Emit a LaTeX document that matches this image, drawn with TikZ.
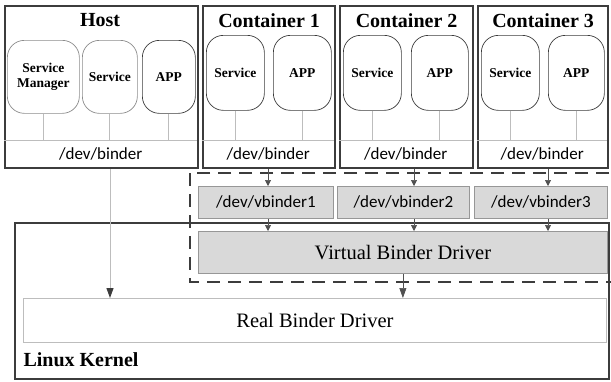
\documentclass[tikz,border=0pt]{standalone}
\usepackage{fontspec}
\setmainfont{Liberation Serif}
\newfontfamily\calibfont{Carlito}
\usetikzlibrary{arrows.meta}
\definecolor{darkline}{HTML}{3C3C3C}
\definecolor{midline}{HTML}{8C8C8C}
\definecolor{lightline}{HTML}{BDBDBD}
\definecolor{boxfill}{HTML}{D9D9D9}
\tikzset{
  outerbox/.style={draw=darkline, line width=2.2pt, anchor=north west, inner sep=0pt},
  roundbox/.style={draw=darkline, line width=0.7pt, rounded corners=17pt, anchor=north west, inner sep=0pt},
  lightround/.style={roundbox, draw=midline},
  strip/.style={anchor=north west, inner sep=0pt},
  vbox/.style={draw=lightline!80!black, fill=boxfill, line width=0.8pt, anchor=north west, inner sep=0pt},
  title/.style={font=\bfseries\fontsize{20}{22}\selectfont},
  svc/.style={font=\bfseries\fontsize{13.5}{15.5}\selectfont, align=center},
  devtext/.style={font=\calibfont\fontsize{17}{18}\selectfont},
  drvtext/.style={font=\fontsize{20.5}{22}\selectfont},
  conn/.style={draw=lightline, line width=1.2pt},
  sepline/.style={draw=lightline, line width=0.8pt},
  arr/.style={draw=darkline!90, line width=0.7pt, -{Triangle[width=6pt,length=6pt]}},
  bigarr/.style={draw=darkline!90, line width=0.7pt, -{Triangle[width=7pt,length=10pt]}},
  hostarr/.style={draw=lightline, line width=1pt, -{Triangle[width=7pt,length=10pt,color=darkline,fill=darkline]}},
}
\begin{document}
\begin{tikzpicture}[x=1pt,y=-1pt]
\useasboundingbox (0,0) rectangle (611,381);
\fill[white] (0,0) rectangle (611,381);

% Linux kernel
\node[outerbox, minimum width=594pt, minimum height=156pt] (kernel) at (14,222) {};
\node[anchor=west, font=\bfseries\fontsize{20}{22}\selectfont] (kt) at (20,360) {Linux Kernel};
\node[draw=lightline, line width=0.8pt, anchor=north west, inner sep=0pt, fill=white,
      minimum width=583pt, minimum height=44pt] (real) at (23,298) {};
\node[drvtext] (realt) at (real.center) {Real Binder Driver};

% dashed region
\draw[darkline, line width=2.4pt, dash pattern=on 13pt off 8pt] (190,173) rectangle (616,282);

% virtual binder driver
\node[vbox, minimum width=409pt, minimum height=42pt] (vbd) at (198,231) {};
\node[drvtext] (vbdt) at (vbd.center) {Virtual Binder Driver};
\node[vbox, minimum width=135pt, minimum height=32pt] (vb1) at (198,186) {};
\node[vbox, minimum width=132pt, minimum height=32pt] (vb2) at (337,186) {};
\node[vbox, minimum width=133pt, minimum height=32pt] (vb3) at (474,186) {};
\node[devtext] at (vb1.center) {/dev/vbinder1};
\node[devtext] at (vb2.center) {/dev/vbinder2};
\node[devtext] at (vb3.center) {/dev/vbinder3};

% Host
\node[outerbox, minimum width=193pt, minimum height=162pt] (host) at (4,5) {};
\node[title] at (100,20) {Host};
\node[strip, minimum width=193pt, minimum height=27pt] (hb) at (4,140) {};
\draw[sepline] (hb.north west) -- (hb.north east);
\node[devtext] at (hb.center) {/dev/binder};
\node[lightround, minimum width=72pt, minimum height=73pt] (hsm) at (7,40) {};
\node[svc] at (hsm.center) {Service\\Manager};
\node[lightround, minimum width=55pt, minimum height=73pt] (hsv) at (82,40) {};
\node[svc] at (hsv.center) {Service};
\node[roundbox, minimum width=53pt, minimum height=73pt] (hap) at (142,40) {};
\node[svc] at (hap.center) {APP};
\draw[conn] (hsm.south) -- (hsm.south |- hb.north);
\draw[conn] (hsv.south) -- (hsv.south |- hb.north);
\draw[conn] (hap.south) -- (hap.south |- hb.north);

% Container 1
\node[outerbox, minimum width=132pt, minimum height=162pt] (c1) at (202,5) {};
\node[title] at (c1.north |- 0,21) {Container 1};
\node[strip, minimum width=132pt, minimum height=27pt] (c1b) at (202,140) {};
\draw[sepline] (c1b.north west) -- (c1b.north east);
\node[devtext] at (c1b.center) {/dev/binder};
\node[roundbox, minimum width=58pt, minimum height=75pt] (c1s) at (206,35) {};
\node[svc] at (c1s.center) {Service};
\node[roundbox, minimum width=58pt, minimum height=75pt] (c1a) at (273,35) {};
\node[svc] at (c1a.center) {APP};
\draw[conn] (c1s.south) -- (c1s.south |- c1b.north);
\draw[conn] (c1a.south) -- (c1a.south |- c1b.north);

% Container 2
\node[outerbox, minimum width=133pt, minimum height=162pt] (c2) at (339,5) {};
\node[title] at (c2.north |- 0,21) {Container 2};
\node[strip, minimum width=133pt, minimum height=27pt] (c2b) at (339,140) {};
\draw[sepline] (c2b.north west) -- (c2b.north east);
\node[devtext] at (c2b.center) {/dev/binder};
\node[roundbox, minimum width=58pt, minimum height=75pt] (c2s) at (343,35) {};
\node[svc] at (c2s.center) {Service};
\node[roundbox, minimum width=57pt, minimum height=75pt] (c2a) at (411,35) {};
\node[svc] at (c2a.center) {APP};
\draw[conn] (c2s.south) -- (c2s.south |- c2b.north);
\draw[conn] (c2a.south) -- (c2a.south |- c2b.north);

% Container 3
\node[outerbox, minimum width=130pt, minimum height=162pt] (c3) at (477,5) {};
\node[title] at (c3.north |- 0,21) {Container 3};
\node[strip, minimum width=130pt, minimum height=27pt] (c3b) at (477,140) {};
\draw[sepline] (c3b.north west) -- (c3b.north east);
\node[devtext] at (c3b.center) {/dev/binder};
\node[roundbox, minimum width=58pt, minimum height=75pt] (c3s) at (481,35) {};
\node[svc] at (c3s.center) {Service};
\node[roundbox, minimum width=56pt, minimum height=75pt] (c3a) at (548,35) {};
\node[svc] at (c3a.center) {APP};
\draw[conn] (c3s.south) -- (c3s.south |- c3b.north);
\draw[conn] (c3a.south) -- (c3a.south |- c3b.north);

% arrows
\coordinate (x1) at (268,0);
\coordinate (x2) at (414,0);
\coordinate (x3) at (548,0);
\coordinate (xh) at (110,0);
\draw[hostarr] (host.south -| xh) -- (real.north -| xh);
\draw[arr] (c1.south -| x1) -- (vb1.north -| x1);
\draw[arr] (c2.south -| x2) -- (vb2.north -| x2);
\draw[arr] (c3.south -| x3) -- (vb3.north -| x3);
\draw[arr] (vb1.south -| x1) -- (vbd.north -| x1);
\draw[arr] (vb2.south -| x2) -- (vbd.north -| x2);
\draw[arr] (vb3.south -| x3) -- (vbd.north -| x3);
\draw[bigarr] (vbd.south) -- (real.north -| vbd.south);
\end{tikzpicture}
\end{document}
